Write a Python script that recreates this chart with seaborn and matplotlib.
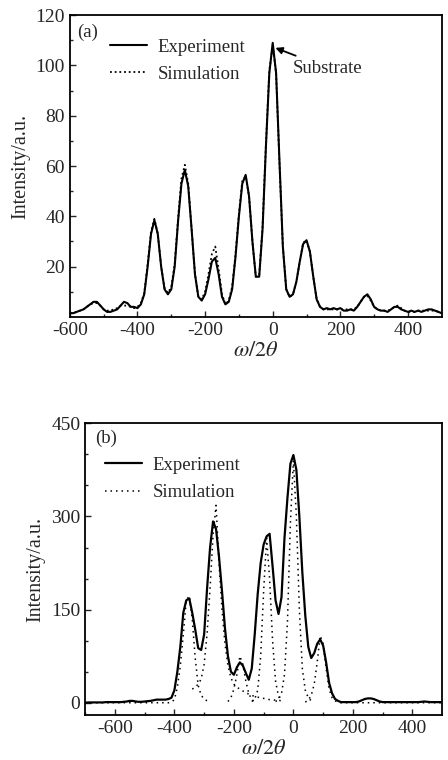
import numpy as np
import matplotlib
matplotlib.use("Agg")
import matplotlib.pyplot as plt
import seaborn as sns

# ---- panel (a): omega/2theta scan, step 10 from -600 to 500
x_a = np.arange(-600, 501, 10)
exp_a = [1.5, 1.5, 2, 2.5, 3, 4, 5, 6, 6, 4.5,
         3, 2, 2, 2.5, 3, 4.5, 6, 5.5, 4, 4,
         3.5, 5, 9, 20, 33, 38.5, 33, 20, 11, 9,
         11, 20, 38, 53, 58.5, 52, 35, 17, 8, 6.5,
         9, 15, 22, 23.5, 17, 8, 5, 6, 11, 24,
         40, 53, 56.5, 48, 30, 16, 16, 35, 68, 97,
         109, 97, 62, 28, 11, 8, 9, 14, 22, 29,
         30.5, 26, 16, 7, 4, 3, 3.5, 3, 3.5, 3,
         3.5, 2.5, 2.5, 3, 2.5, 4, 6, 8, 9, 7,
         4, 3, 2.5, 2.5, 2, 3, 4, 4, 3, 2.5,
         2, 2.5, 2, 2.5, 2, 2.5, 3, 3, 2.5, 2,
         1.5]
sim_a = [1.5, 1.5, 2, 2.5, 3, 4, 5, 5.5, 5.5, 4.5,
         3, 2.5, 2.5, 3, 3.5, 4.5, 4.5, 4.5, 4, 3.5,
         4, 5.5, 9.5, 21, 34, 39, 33, 20, 11.5, 9.5,
         12, 21, 39, 55, 60.5, 53, 35, 17, 8, 7,
         10, 17, 25, 28, 19, 9, 5, 6.5, 12, 25,
         41, 54, 56, 48, 30, 16, 16.5, 36, 69, 98,
         108, 97, 61, 28, 11, 8, 9, 14, 22, 29.5,
         30.5, 26, 16, 7, 4, 3, 3, 3, 3, 3,
         3, 3, 3, 3, 3, 4, 6, 8, 8.5, 6.5,
         4, 3, 2.5, 2.5, 2.5, 3, 4, 4.5, 3.5, 2.5,
         2, 2, 2, 2.5, 2.5, 2.5, 2.5, 2.5, 2.5, 2,
         1.5]

# ---- panel (b): step 10 from -700 to 500
x_b = np.arange(-700, 501, 10)
exp_b = [0, 0.5, 0.5, 0.5, 0.5, 0.5, 0.5, 1, 1, 1,          # -700
         1, 1, 1, 1.5, 2, 3, 3, 2, 1.5, 1.5,                # -600
         2, 2.5, 3, 4, 5, 5, 5, 5, 6, 8,                    # -500
         20, 50, 90, 145, 165, 168, 145, 118, 88, 85,       # -400
         110, 185, 250, 292, 280, 235, 180, 120, 75, 50,    # -300
         45, 57, 65, 60, 48, 37, 55, 110, 175, 225,         # -200
         255, 268, 272, 220, 165, 143, 170, 265, 330, 385,  # -100
         399, 375, 300, 210, 140, 90, 72, 80, 95, 102,      # 0
         92, 65, 32, 15, 6, 3, 1, 1, 1, 1,                  # 100
         1, 1, 2, 4, 6, 7, 7, 6, 4, 2,                      # 200
         1, 1, 1, 1, 1, 1, 1, 1, 1, 1,                      # 300
         1, 1, 1, 1.5, 2, 1.5, 1, 1, 1, 1,                  # 400
         1]

# simulated component peaks in (b), each starts at its own x and steps by 10
sim1_x0 = -700
sim1 = [0, 0, 0, 0, 0, 0, 0, 0, 0, 0,
        0, 0, 0, 0, 0, 0, 0, 0, 0, 0,
        0, 0, 0, 0, 0, 0, 0, 0, 0, 1,
        5, 25, 60, 110, 165, 172, 135, 72, 28, 12,
        6, 3, 1]
sim2_x0 = -340
sim2 = [22, 25, 30, 38, 62, 112, 185, 270, 318, 225,
        150, 95, 60, 40, 30, 25, 22, 19, 16, 14,
        12, 10, 9, 8, 7, 6, 5, 5, 4, 4,
        3]
sim3_x0 = -220
sim3 = [2, 8, 22, 45, 75, 62, 35, 15, 5, 2]
sim4_x0 = -140
sim4 = [2, 6, 20, 75, 180, 265, 200, 100, 35, 10, 3]
sim5_x0 = -60
sim5 = [2, 5, 15, 45, 130, 290, 390, 300, 150, 55, 20, 8, 3, 1]
sim6_x0 = 40
sim6 = [1, 4, 12, 30, 65, 108, 95, 55, 22, 8, 3, 1, 0, 0, 0,
        0, 0, 0, 0, 0, 0, 0, 0, 0, 0, 0, 0, 0, 0, 0,
        0, 0, 0, 0, 0, 0, 0, 0, 0, 0, 0, 0, 0, 0, 0,
        0, 0]

sns.set_style("ticks")
plt.rcParams['font.family'] = ['Liberation Serif', 'DejaVu Serif']
plt.rcParams['mathtext.fontset'] = 'stix'
plt.rcParams['axes.unicode_minus'] = False
plt.rcParams['xtick.direction'] = 'in'
plt.rcParams['ytick.direction'] = 'in'

fig = plt.figure(figsize=(4.48, 7.6), dpi=100)
ax1 = fig.add_axes([0.156, 0.583, 0.830, 0.397])
ax2 = fig.add_axes([0.190, 0.059, 0.797, 0.384])

sns.lineplot(x=x_a, y=exp_a, ax=ax1, color='black', lw=1.5, label='Experiment')
sns.lineplot(x=x_a, y=sim_a, ax=ax1, color='black', lw=1.3, linestyle=(0, (1, 1.6)),
             label='Simulation')

sns.lineplot(x=x_b, y=exp_b, ax=ax2, color='black', lw=1.6, label='Experiment')
first = True
for x0, vals in [(sim1_x0, sim1), (sim2_x0, sim2), (sim3_x0, sim3),
                 (sim4_x0, sim4), (sim5_x0, sim5), (sim6_x0, sim6)]:
    xs = x0 + 10 * np.arange(len(vals))
    sns.lineplot(x=xs, y=vals, ax=ax2, color='black', lw=1.1, linestyle=(0, (1, 2.6)),
                 label='Simulation' if first else None)
    first = False

ax1.set_xlim(-600, 500)
ax1.set_ylim(0, 120)
ax1.set_xticks([-600, -400, -200, 0, 200, 400])
ax1.set_xticks(np.arange(-500, 500, 200), minor=True)
ax1.set_yticks([20, 40, 60, 80, 100, 120])
ax1.set_yticks(np.arange(10, 120, 20), minor=True)

ax2.set_xlim(-700, 500)
ax2.set_ylim(-20, 450)
ax2.set_xticks([-600, -400, -200, 0, 200, 400])
ax2.set_xticks(np.arange(-700, 500, 200), minor=True)
ax2.set_yticks([0, 150, 300, 450])
ax2.set_yticks([50, 100, 200, 250, 350, 400], minor=True)

panels = [(ax1, '(a)', 0.02, 0.944, (0.089, 0.948)),
          (ax2, '(b)', 0.028, 0.949, (0.036, 0.912))]
for ax, tag, tx, ty, anchor in panels:
    ax.tick_params(which='major', length=4, width=1, labelsize=14, top=False, right=False)
    ax.tick_params(which='minor', length=2.5, width=1, top=False, right=False)
    for s in ax.spines.values():
        s.set_linewidth(1.3)
        s.set_color('black')
    ax.set_xlabel(r'$\omega/2\theta$', fontsize=16, labelpad=2)
    ax.set_ylabel('Intensity/a.u.', fontsize=14.5, labelpad=4)
    ax.text(tx, ty, tag, transform=ax.transAxes, fontsize=13.5, va='center', ha='left')
    ax.legend(loc='upper left', bbox_to_anchor=anchor, frameon=False, fontsize=13.5,
              handlelength=1.95, handletextpad=0.55, labelspacing=0.55, borderaxespad=0)

ax1.annotate('Substrate', xy=(8, 107), xytext=(59, 99), fontsize=13.5, ha='left', va='center',
             arrowprops=dict(arrowstyle='-|>', color='black', lw=1.3, shrinkA=1, shrinkB=0,
                             mutation_scale=10))

fig.savefig('out.png', dpi=100)
